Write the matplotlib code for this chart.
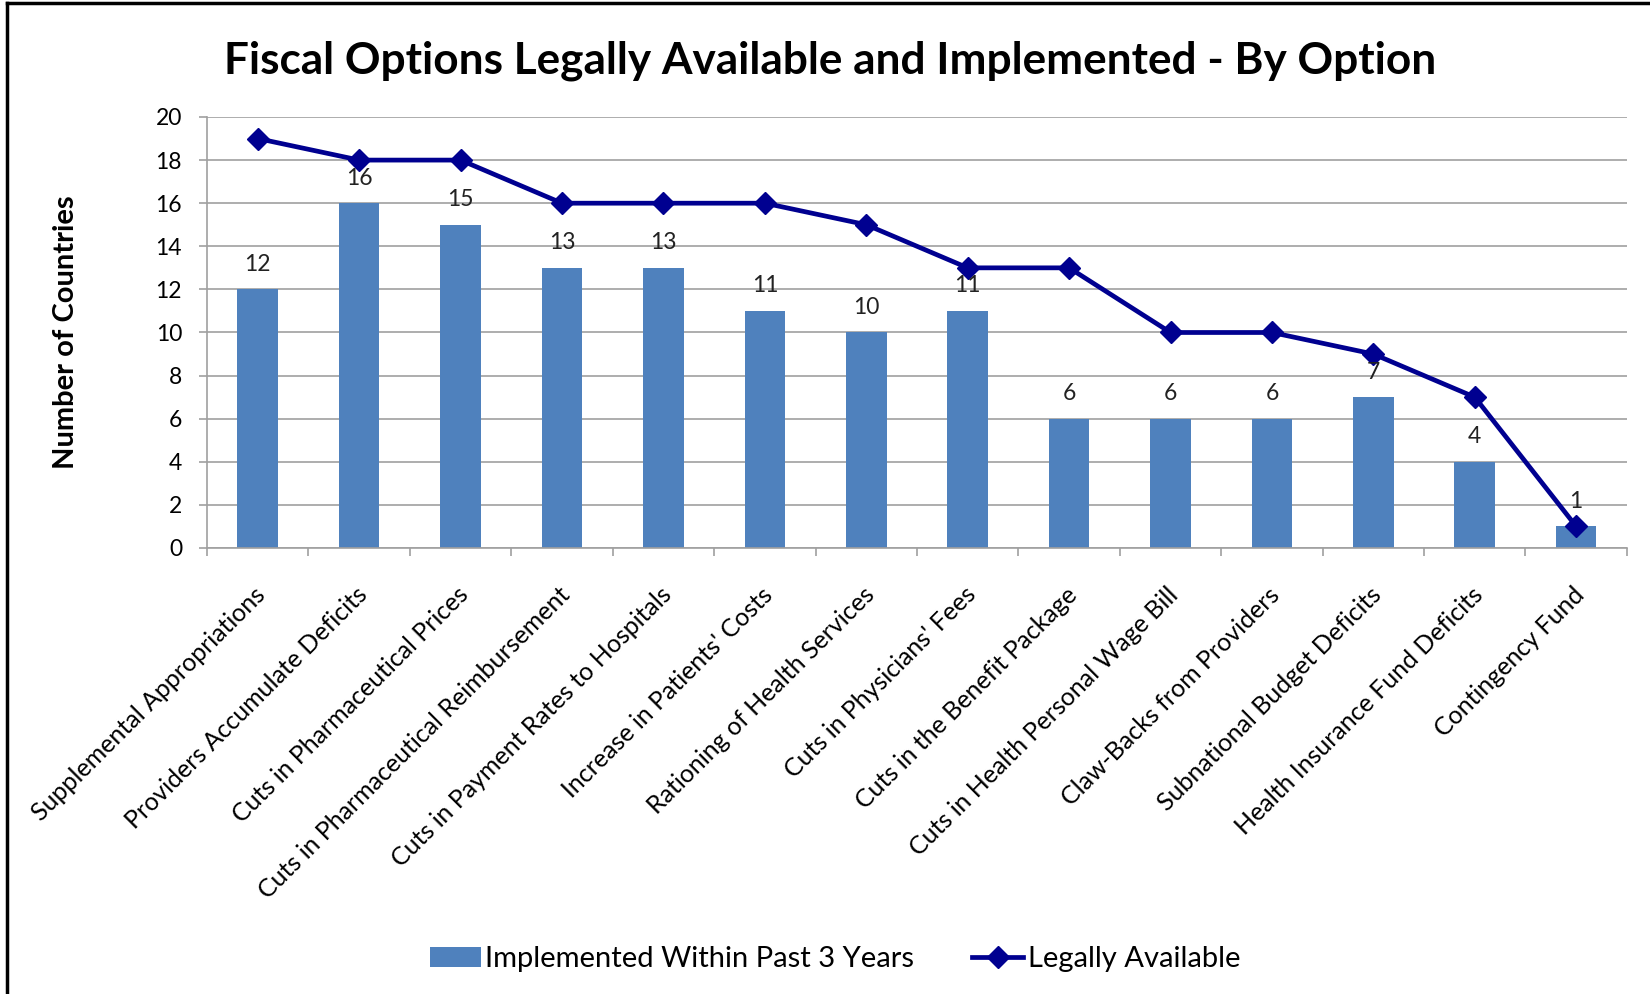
"""Fiscal options legally available vs implemented, by option."""
import matplotlib

matplotlib.use("Agg")
import matplotlib.pyplot as plt
from matplotlib.lines import Line2D
import numpy as np

options = [
    "Supplemental Appropriations",
    "Providers Accumulate Deficits",
    "Cuts in Pharmaceutical Prices",
    "Cuts in Pharmaceutical Reimbursement",
    "Cuts in Payment Rates to Hospitals",
    "Increase in Patients' Costs",
    "Rationing of Health Services",
    "Cuts in Physicians' Fees",
    "Cuts in the Benefit Package",
    "Cuts in Health Personal Wage Bill",
    "Claw-Backs from Providers",
    "Subnational Budget Deficits",
    "Health Insurance Fund Deficits",
    "Contingency Fund",
]
implemented = [12, 16, 15, 13, 13, 11, 10, 11, 6, 6, 6, 7, 4, 1]
legally_available = [19, 18, 18, 16, 16, 16, 15, 13, 13, 10, 10, 9, 7, 1]

BAR = "#4F81BD"
LINE = "#000090"
GRID = "#A0A0A0"

plt.rcParams["font.family"] = ["Lato", "DejaVu Sans"]

fig = plt.figure(figsize=(16.5, 9.94), dpi=100)
ax = fig.add_axes([0.1255, 0.4487, 0.8605, 0.4336])

x = np.arange(len(options))
ax.bar(x, implemented, width=0.4, color=BAR, zorder=2,
       label="Implemented Within Past 3 Years")
ax.plot(x, legally_available, color=LINE, lw=3.4, marker="D", markersize=11,
        zorder=3, label="Legally Available")

for xi, v in zip(x, implemented):
    ax.annotate(str(v), (xi, v), xytext=(0, 18), textcoords="offset points",
                ha="center", va="center", fontsize=16.5, color="#222222", zorder=4)

ax.set_xlim(-0.5, len(options) - 0.5)
ax.set_ylim(0, 20)
ax.set_yticks(range(0, 21, 2))
ax.yaxis.grid(True, color=GRID, lw=1.2, zorder=0)
ax.set_axisbelow(True)

# category labels, rotated like the spreadsheet original
ax.set_xticks(x)
ax.set_xticklabels([])
for xi, name in zip(x, options):
    ax.annotate(name, (xi, 0), xycoords=("data", "axes fraction"),
                xytext=(3, -31), textcoords="offset points", rotation=45,
                ha="right", va="center", rotation_mode="anchor", fontsize=18)
ax.set_xticks(np.arange(-0.5, len(options)), minor=True)
ax.tick_params(axis="x", which="major", length=0)
ax.tick_params(axis="x", which="minor", length=6, color=GRID, width=1.2)
ax.tick_params(axis="y", length=6, color=GRID, width=1.2, labelsize=16.5, pad=12)

for side in ("top", "right"):
    ax.spines[side].set_visible(False)
for side in ("left", "bottom"):
    ax.spines[side].set_color(GRID)
    ax.spines[side].set_linewidth(1.2)

ax.set_ylabel("Number of Countries", fontsize=21, fontweight="bold")
ax.yaxis.set_label_coords(-0.09, 0.5)

fig.text(0.503, 0.939, "Fiscal Options Legally Available and Implemented - By Option",
         ha="center", va="center", fontsize=31.8, fontweight="bold")

handles, labels = ax.get_legend_handles_labels()
fig.legend(handles[::-1], labels[::-1], loc="center", bbox_to_anchor=(0.506, 0.035),
           ncol=2, frameon=False, fontsize=21, handlelength=1.75, handletextpad=0.15,
           columnspacing=2.0)

# frame on top and left edges
fig.add_artist(Line2D([0.004, 0.004], [0, 0.997], color="black", lw=2.5))
fig.add_artist(Line2D([0.004, 1.0], [0.997, 0.997], color="black", lw=2.5))

fig.savefig("out.png", dpi=100)
